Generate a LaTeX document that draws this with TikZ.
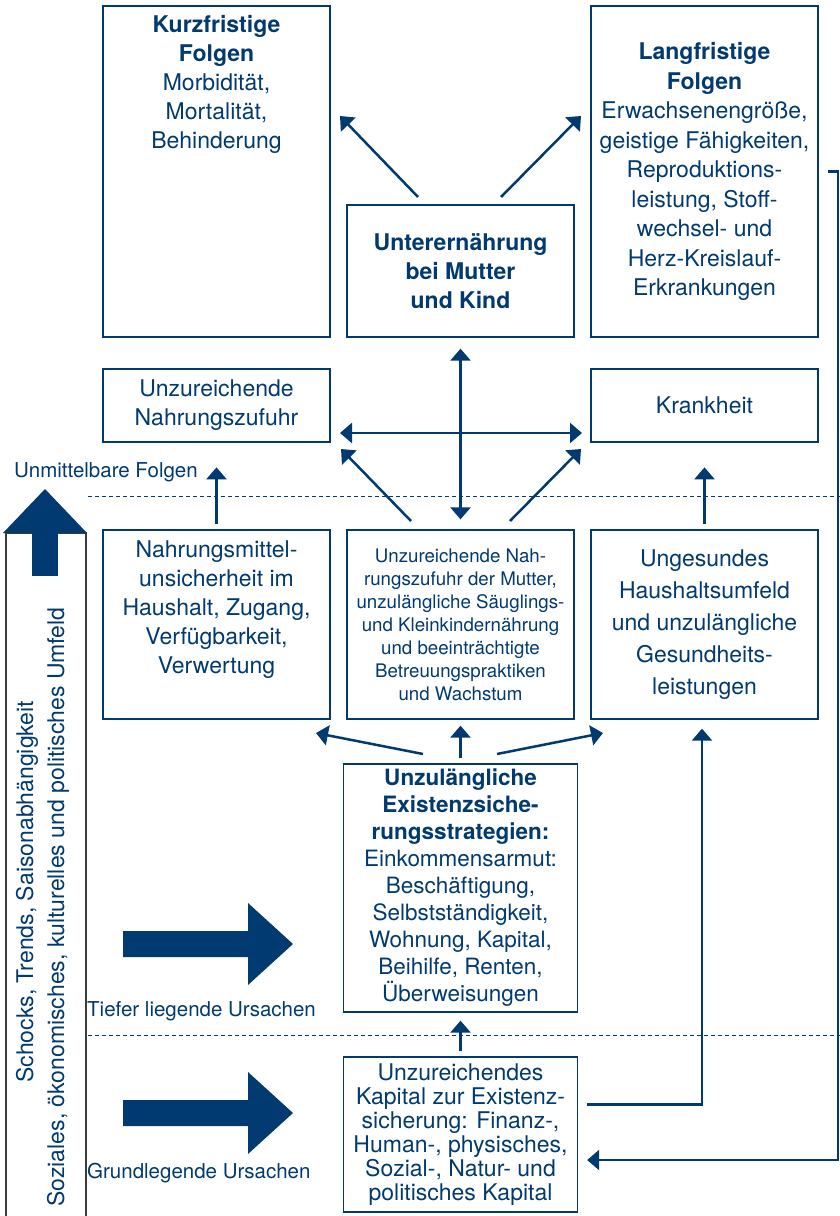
\documentclass[tikz,border=0pt]{standalone}
\usepackage{fontspec}
\setmainfont{TeX Gyre Heros}
\usetikzlibrary{arrows.meta,positioning}
\definecolor{unblau}{RGB}{0,58,112}
\definecolor{rahmen}{RGB}{60,60,60}

\tikzset{
	box/.style={draw=unblau,line width=1.3pt,inner sep=0pt,minimum width=227pt,align=center,text=unblau,font=\fontsize{23}{29}\selectfont},
	txt/.style={inner sep=0pt,align=center,text=unblau,font=\fontsize{23}{29}\selectfont},
	lab/.style={inner sep=0pt,text=unblau,font=\fontsize{20.5}{24}\selectfont},
	arr/.style={draw=unblau,line width=2.5pt,-{Triangle[length=12pt,width=20pt]}},
	arrb/.style={draw=unblau,line width=2.5pt,{Triangle[length=12pt,width=20pt]}-{Triangle[length=12pt,width=20pt]}}
}

\begin{document}
\begin{tikzpicture}[x=1pt,y=-1pt]
	\useasboundingbox (0,0) rectangle (840,1216);
	
	\node (kurz) [box,minimum height=331pt] at (216.5,171.5) {};
	\node (kurzT) [txt] at (216.5,84) {\textbf{Kurzfristige}\\\textbf{Folgen}\\Morbidität,\\Mortalität,\\Behinderung};
	\node (unter) [box,minimum height=132pt] at (460.5,271) {\textbf{Unterernährung}\\\textbf{bei Mutter}\\\textbf{und Kind}};
	\node (lang) [box,minimum height=331pt,font=\fontsize{23}{29.5}\selectfont] at (704.5,171.5) {\textbf{Langfristige}\\\textbf{Folgen}\\Erwachsenengröße,\\geistige Fähigkeiten,\\Reproduktions-\\leistung, Stoff-\\wechsel- und\\Herz-Kreislauf-\\Erkrankungen};
	
	\node (zufuhr) [box,minimum height=73pt] at (216.5,405.5) {Unzureichende\\Nahrungszufuhr};
	\node (krank) [box,minimum height=73pt] at (704.5,405.5) {Krankheit};
	
	\node (nahr) [box,minimum height=189pt] at (216.5,624.5) {};
	\node (nahrT) [txt] at (216.5,609.5) {Nahrungsmittel-\\unsicherheit im\\Haushalt, Zugang,\\Verfügbarkeit,\\Verwertung};
	\node (mitte) [box,minimum height=189pt,font=\fontsize{18.7}{23}\selectfont] at (460.5,624.5) {Unzureichende Nah-\\rungszufuhr der Mutter,\\unzulängliche Säuglings-\\und Kleinkindernährung\\und beeinträchtigte\\Betreuungspraktiken\\und Wachstum};
	\node (ung) [box,minimum height=189pt,font=\fontsize{23}{32}\selectfont] at (704.5,624.5) {Ungesundes\\Haushaltsumfeld\\und unzulängliche\\Gesundheits-\\leistungen};
	
	\node (exist) [box,minimum width=234pt,minimum height=248pt,font=\fontsize{22.5}{27}\selectfont] at (460.5,888) {\textbf{Unzulängliche}\\\textbf{Existenzsiche-}\\\textbf{rungsstrategien:}\\Einkommensarmut:\\Beschäftigung,\\Selbstständigkeit,\\Wohnung, Kapital,\\Beihilfe, Renten,\\Überweisungen};
	\node (kap) [box,minimum width=234pt,minimum height=155pt,font=\fontsize{23}{24}\selectfont] at (460.5,1134.5) {Unzureichendes\\Kapital zur Existenz-\\sicherung: Finanz-,\\Human-, physisches,\\Sozial-, Natur- und\\politisches Kapital};
	
	\foreach \y in {496,1035}
		\draw [unblau,line width=1pt,dash pattern=on 4pt off 3pt] (88,\y) -- (840,\y);
	
	\node (unmitt) [lab,anchor=west] at (14,472) {Unmittelbare Folgen};
	\node (tiefer) [lab,anchor=west] at (87,1011) {Tiefer liegende Ursachen};
	\node (grund) [lab,anchor=west] at (87,1173) {Grundlegende Ursachen};
	
	\draw [rahmen,line width=1.3pt] (6,1220) -- (6,533) -- (86,533) -- (86,1220);
	\fill [unblau] (3,533) -- (45,489) -- (87,533) -- cycle;
	\fill [unblau] (32,532) rectangle (58,576);
	\node (schock) [txt,rotate=90,anchor=west] at (27,1083) {Schocks, Trends, Saisonabhängigkeit};
	\node (umfeld) [txt,rotate=90,anchor=west] at (58,1207) {Soziales, ökonomisches, kulturelles und politisches Umfeld};
	
	\foreach \y in {944,1113}
		\fill [unblau] (123,\y-13) -- (248,\y-13) -- (248,\y-41) -- (293,\y) -- (248,\y+41) -- (248,\y+13) -- (123,\y+13) -- cycle;
	
	\coordinate (u1) at (418,197);
	\coordinate (k1) at (340,116);
	\coordinate (u2) at (501,197);
	\coordinate (l1) at (581,116);
	\draw [arr] (u1) -- (k1);
	\draw [arr] (u2) -- (l1);
	
	\draw [arrb] ([yshift=-11pt]unter.south) -- ([yshift=10pt]mitte.north);
	\coordinate (h1) at (340,433);
	\coordinate (h2) at (582,433);
	\draw [arrb] (h1) -- (h2);
	
	\coordinate (m1) at (411,521);
	\coordinate (m2) at (510,521);
	\coordinate (z1) at (341,449);
	\coordinate (r1) at (581,449);
	\draw [arr] (m1) -- (z1);
	\draw [arr] (m2) -- (r1);
	\draw [arr] ([yshift=5pt]nahr.north) -- ++(0,-57);
	\draw [arr] ([yshift=5pt]ung.north) -- ++(0,-57);
	
	\coordinate (e1) at (423,754);
	\coordinate (e2) at (497,754);
	\coordinate (n1) at (316,733);
	\coordinate (g1) at (603,733);
	\draw [arr] (e1) -- (n1);
	\draw [arr] ([yshift=5pt]exist.north) -- ([yshift=-6pt]mitte.south);
	\draw [arr] (e2) -- (g1);
	\draw [arr] ([yshift=5pt]kap.north) -- ([yshift=-8pt]exist.south);
	
	\draw [arr] ([xshift=9pt,yshift=30pt]kap.east) -| ([xshift=-2.5pt,yshift=-9pt]ung.south);
	\draw [arr,line width=2.2pt] ([xshift=9pt]lang.east) -- ++(10,0) |- ([xshift=9pt,yshift=-25.5pt]kap.east);
	
\end{tikzpicture}
\end{document}
